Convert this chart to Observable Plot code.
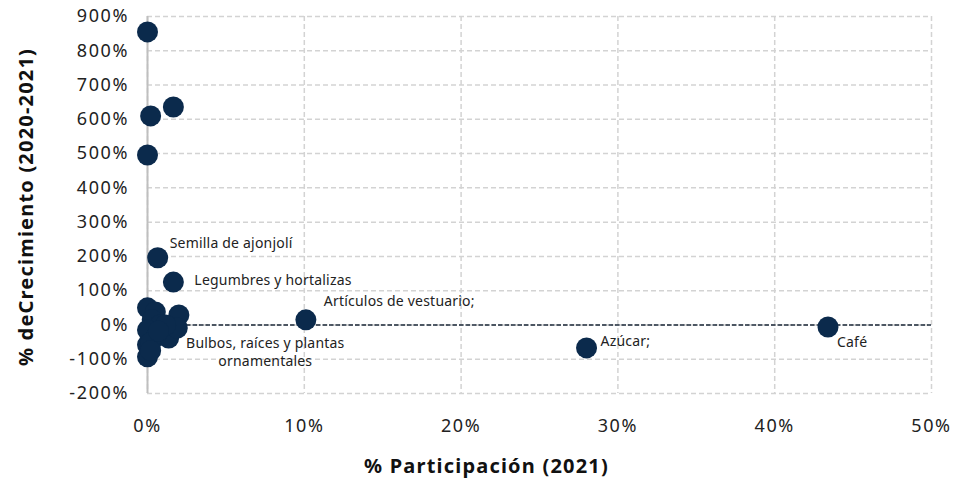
<!DOCTYPE html>
<html>
<head>
<meta charset="utf-8">
<script src="https://cdn.jsdelivr.net/npm/d3@7"></script>
<script src="https://cdn.jsdelivr.net/npm/@observablehq/plot@0.6"></script>
<style>
  html, body { margin: 0; padding: 0; background: #fff; }
  #chart svg { display: block; }
  g[aria-label="x-axis tick label"] text,
  g[aria-label="y-axis tick label"] text { letter-spacing: 1.6px; }
  g.title text { letter-spacing: 1.2px; }
  g.note text { letter-spacing: 0.2px; }
</style>
</head>
<body>
<div id="chart"></div>
<script>
// % Participación (2021) and % Crecimiento (2020-2021), both in percent
const participacion = [0.0, 0.2, 1.65, 0.0, 0.65, 1.65, 0.0, 10.1, 28.0, 43.4,
  0.5, 0.3, 0.8, 0.0, 0.6, 1.35, 2.0, 1.9, 0.0, 0.0, 1.15, 0.2, 0.2, 0.7];
const crecimiento = [855, 610, 636, 496, 196, 125, 50, 15, -67, -6,
  38, 15, 0, -15, -32, -38, 29, -9, -58, -93, 0, -52, -75, -18];
const nombres = ["", "", "", "", "Semilla de ajonjolí", "Legumbres y hortalizas", "",
  "Artículos de vestuario;", "Azúcar;", "Café",
  "", "", "", "", "", "", "", "Bulbos, raíces y plantas\nornamentales", "", "", "", "", "", ""];
const xTicks = [0, 10, 20, 30, 40, 50];
const yTicks = [-200, -100, 0, 100, 200, 300, 400, 500, 600, 700, 800, 900];
const xTitle = "% Participación (2021)";
const yTitle = "% deCrecimiento (2020-2021)";

const data = participacion.map((p, i) => ({x: p, y: crecimiento[i], name: nombres[i]}));
const named = n => data.filter(d => d.name === n);

const font = "Noto Sans, sans-serif";
const pct = d => `${d}%`;
const noteStyle = {x: "x", y: "y", text: "name", fontSize: 14, fill: "#222", className: "note"};

const chart = Plot.plot({
  width: 956,
  height: 490,
  marginLeft: 147,
  marginRight: 25,
  marginTop: 16,
  marginBottom: 97,
  style: {fontFamily: font, color: "#222", background: "#fff"},
  x: {domain: [0, 50]},
  y: {domain: [-200, 900]},
  marks: [
    Plot.gridX(xTicks, {stroke: "#d3d3d3", strokeOpacity: 1, strokeWidth: 1.5, strokeDasharray: "5,3"}),
    Plot.gridY(yTicks, {stroke: "#d3d3d3", strokeOpacity: 1, strokeWidth: 1.5, strokeDasharray: "5,3"}),
    Plot.ruleX([0], {stroke: "#bfbfbf", strokeWidth: 2}),
    Plot.ruleY([0], {x1: 0, x2: 50, stroke: "#1c2a3a", strokeWidth: 1.4, strokeDasharray: "4.5,2"}),
    Plot.axisX(xTicks, {tickSize: 0, tickPadding: 26, tickFormat: pct, fontSize: 18, fill: "#222", dx: 0, label: null}),
    Plot.axisY(yTicks, {tickSize: 0, tickPadding: 20, tickFormat: pct, fontSize: 18, fill: "#222", dx: 1.5, label: null}),
    Plot.dot(data, {x: "x", y: "y", r: 10.5, fill: "#0b2a4c", stroke: null}),
    Plot.text(named("Semilla de ajonjolí"), {...noteStyle, textAnchor: "start", dx: 12, dy: -14}),
    Plot.text(named("Legumbres y hortalizas"), {...noteStyle, textAnchor: "start", dx: 21, dy: -2}),
    Plot.text(named("Artículos de vestuario;"), {...noteStyle, textAnchor: "start", dx: 18, dy: -18}),
    Plot.text(named("Azúcar;"), {...noteStyle, textAnchor: "start", dx: 14, dy: -6}),
    Plot.text(named("Café"), {...noteStyle, textAnchor: "start", dx: 9, dy: 16}),
    Plot.text(named("Bulbos, raíces y plantas\nornamentales"), {...noteStyle, textAnchor: "middle", dx: 88, dy: 23, lineHeight: 1.3}),
    Plot.text([xTitle], {text: d => d, frameAnchor: "bottom", dx: -53, dy: 79, fontSize: 20, fontWeight: "bold", fill: "#111", className: "title"}),
    Plot.text([yTitle], {text: d => d, frameAnchor: "left", textAnchor: "middle", lineAnchor: "middle", rotate: -90, dx: -121, dy: 2, fontSize: 20, fontWeight: "bold", fill: "#111", className: "title"})
  ]
});

document.getElementById("chart").appendChild(chart);
</script>
</body>
</html>
